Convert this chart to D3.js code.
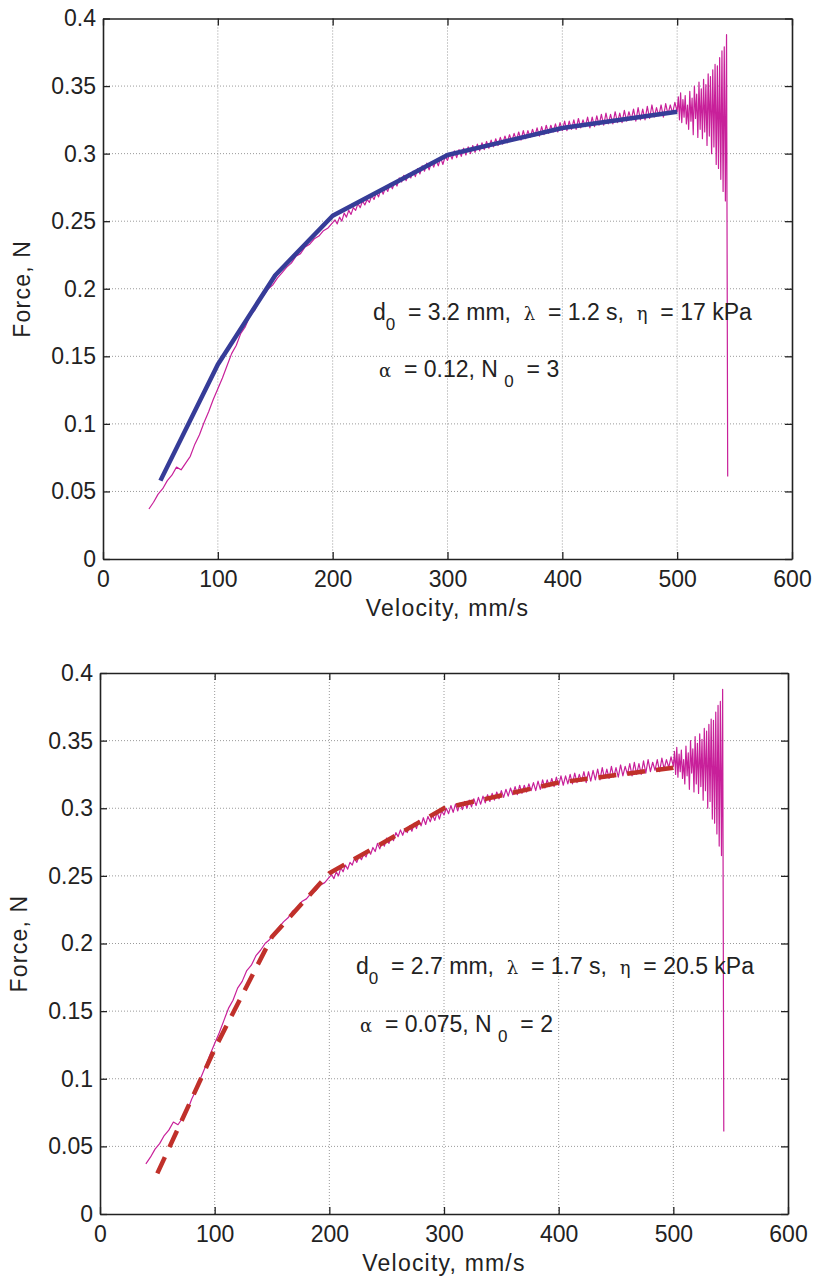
<!DOCTYPE html>
<html>
<head>
<meta charset="utf-8">
<script src="https://cdn.jsdelivr.net/npm/d3@7"></script>
<style>
html,body{margin:0;padding:0;background:#fff;}
svg{display:block;}
text{font-family:"Liberation Sans",Arial,Helvetica,sans-serif;fill:#222;}
</style>
</head>
<body>
<svg id="chart" width="815" height="1279"></svg>
<script>
// ---------------- DATA ----------------
const xTicks = [0, 100, 200, 300, 400, 500, 600];
const xTickLabels = ["0", "100", "200", "300", "400", "500", "600"];
const yTicks = [0, 0.05, 0.1, 0.15, 0.2, 0.25, 0.3, 0.35, 0.4];
const yTickLabels = ["0", "0.05", "0.1", "0.15", "0.2", "0.25", "0.3", "0.35", "0.4"];

// measured force, velocity 40..200 every 4 mm/s
const measLowStart = 40, measLowStep = 4;
const measLowF = [.037,.042,.048,.052,.058,.062,.068,.066,.071,.076,.085,.092,.101,.109,.118,.126,
  .134,.143,.152,.158,.167,.172,.180,.184,.191,.195,.200,.203,.208,.212,.216,.219,.224,.226,.231,
  .233,.237,.239,.243,.245,.249];
// measured force, velocity 202..500 every 2 mm/s
const measMidStart = 202, measMidStep = 2;
const measMidF = [.251,.248,.253,.250,.256,.253,.258,.255,.260,.258,.263,.260,.265,.262,.266,.264,
  .269,.266,.271,.268,.274,.270,.275,.272,.278,.274,.279,.276,.282,.279,.284,.280,.285,.282,.287,
  .283,.289,.285,.291,.287,.293,.288,.294,.290,.295,.291,.297,.292,.298,.295,.300,.296,.302,.297,
  .303,.298,.304,.299,.305,.300,.306,.301,.307,.302,.308,.303,.309,.304,.310,.305,.311,.306,.312,
  .307,.313,.308,.314,.309,.315,.310,.316,.310,.317,.311,.317,.312,.318,.313,.319,.313,.320,.314,
  .321,.315,.321,.316,.322,.316,.323,.317,.324,.317,.324,.318,.325,.318,.326,.319,.325,.320,.327,
  .319,.327,.320,.328,.321,.329,.321,.330,.322,.329,.322,.331,.323,.330,.323,.332,.324,.331,.325,
  .333,.324,.334,.325,.333,.325,.335,.326,.336,.327,.334,.328,.336,.327,.337,.329,.336,.330,.338,.331];
// measured force, velocity 501..544 every 1 mm/s (oscillating end)
const measEndStart = 501, measEndStep = 1;
const measEndF = [.342,.325,.345,.323,.340,.327,.343,.322,.336,.318,.346,.324,.341,.314,.350,.326,
  .344,.312,.353,.318,.348,.311,.355,.316,.351,.306,.359,.313,.357,.300,.362,.305,.366,.292,.365,
  .289,.371,.281,.376,.272,.379,.265,.388,.061];

// model curves
const modelV = [50, 100, 150, 200, 300, 400, 500];
const modelTopF = [0.058, 0.144, 0.210, 0.254, 0.299, 0.319, 0.331];
const modelBottomF = [0.030, 0.122, 0.205, 0.252, 0.300, 0.319, 0.330];

// annotations
const annTop = {d0: "3.2", lambda: "1.2", eta: "17", alpha: "0.12", N0: "3"};
const annBottom = {d0: "2.7", lambda: "1.7", eta: "20.5", alpha: "0.075", N0: "2"};

// ---------------- DRAW ----------------
function seg(start, step, arr) { return arr.map((f, i) => [start + i * step, f]); }
const measured = [].concat(seg(measLowStart, measLowStep, measLowF),
                           seg(measMidStart, measMidStep, measMidF),
                           seg(measEndStart, measEndStep, measEndF));

const svg = d3.select("#chart");

function panel(cfg) {
  const x = d3.scaleLinear().domain([0, 600]).range([cfg.left, cfg.right]);
  const y = d3.scaleLinear().domain([0, 0.4]).range([cfg.bottom, cfg.top]);
  const g = svg.append("g");

  // grid
  g.append("g").selectAll("line").data(xTicks.slice(1, -1)).join("line")
    .attr("x1", d => x(d)).attr("x2", d => x(d)).attr("y1", cfg.top).attr("y2", cfg.bottom)
    .attr("stroke", "#9a9a9a").attr("stroke-width", 1).attr("stroke-dasharray", "1,2");
  g.append("g").selectAll("line").data(yTicks.slice(1, -1)).join("line")
    .attr("y1", d => y(d)).attr("y2", d => y(d)).attr("x1", cfg.left).attr("x2", cfg.right)
    .attr("stroke", "#9a9a9a").attr("stroke-width", 1).attr("stroke-dasharray", "1,2");

  // measured
  g.append("path").datum(measured)
    .attr("d", d3.line().x(d => x(d[0])).y(d => y(d[1])))
    .attr("fill", "none").attr("stroke", "#c8209a").attr("stroke-width", 1.2)
    .attr("stroke-linejoin", "round");

  // model
  const mdata = modelV.map((v, i) => [v, cfg.model[i]]);
  const mp = g.append("path").datum(mdata)
    .attr("d", d3.line().x(d => x(d[0])).y(d => y(d[1])))
    .attr("fill", "none").attr("stroke", cfg.modelColor).attr("stroke-width", cfg.modelWidth)
    .attr("stroke-linejoin", "round");
  if (cfg.dash) mp.attr("stroke-dasharray", cfg.dash);

  // axes
  const fmtX = d => xTickLabels[xTicks.indexOf(d)];
  const fmtY = d => yTickLabels[yTicks.indexOf(d)];
  const ax = [
    g.append("g").attr("transform", `translate(0,${cfg.bottom})`)
      .call(d3.axisBottom(x).tickValues(xTicks).tickFormat(fmtX).tickSizeInner(-7).tickSizeOuter(0).tickPadding(12)),
    g.append("g").attr("transform", `translate(${cfg.left},0)`)
      .call(d3.axisLeft(y).tickValues(yTicks).tickFormat(fmtY).tickSizeInner(-7).tickSizeOuter(0).tickPadding(7)),
    g.append("g").attr("transform", `translate(0,${cfg.top})`)
      .call(d3.axisTop(x).tickValues(xTicks).tickFormat("").tickSizeInner(-7).tickSizeOuter(0)),
    g.append("g").attr("transform", `translate(${cfg.right},0)`)
      .call(d3.axisRight(y).tickValues(yTicks).tickFormat("").tickSizeInner(-7).tickSizeOuter(0))
  ];
  ax.forEach(a => {
    a.select(".domain").attr("stroke", "#222").attr("stroke-width", 1.6);
    a.selectAll(".tick line").attr("stroke", "#222").attr("stroke-width", 1.3);
    a.selectAll("text").attr("font-size", 23).attr("fill", "#222")
      .attr("font-family", "'Liberation Sans', Arial, sans-serif");
  });

  // axis labels
  g.append("text").attr("x", (cfg.left + cfg.right) / 2).attr("y", cfg.bottom + 57)
    .attr("text-anchor", "middle").attr("font-size", 23).attr("letter-spacing", 1.2)
    .text("Velocity, mm/s");
  g.append("text")
    .attr("transform", `translate(${cfg.ylabelX},${(cfg.top + cfg.bottom) / 2}) rotate(-90)`)
    .attr("text-anchor", "middle").attr("font-size", 23).attr("letter-spacing", 1.2)
    .text("Force, N");

  // annotation
  const a = cfg.ann;
  const greek = "'DejaVu Serif','Liberation Serif',serif";
  const t1 = g.append("text").attr("x", cfg.annX).attr("y", cfg.annY1).attr("font-size", 23);
  t1.append("tspan").text("d");
  t1.append("tspan").attr("font-size", 17).attr("dy", 10).text("0");
  t1.append("tspan").attr("dy", -10).text("\u00a0 = " + a.d0 + " mm,\u00a0\u00a0");
  t1.append("tspan").attr("font-family", greek).attr("font-size", 18).text("\u03bb");
  t1.append("tspan").text("\u00a0 = " + a.lambda + " s,\u00a0\u00a0");
  t1.append("tspan").attr("font-family", greek).attr("font-size", 18).text("\u03b7");
  t1.append("tspan").text("\u00a0 = " + a.eta + " kPa");

  const t2 = g.append("text").attr("x", cfg.annX2).attr("y", cfg.annY2).attr("font-size", 23);
  t2.append("tspan").attr("font-family", greek).attr("font-size", 18).text("\u03b1");
  t2.append("tspan").text("\u00a0 = " + a.alpha + ", N\u00a0");
  t2.append("tspan").attr("font-size", 17).attr("dy", 10).text("0");
  t2.append("tspan").attr("dy", -10).text("\u00a0 = " + a.N0);
}

panel({left: 103, right: 792, top: 18.5, bottom: 559, ylabelX: 30,
       model: modelTopF, modelColor: "#363c98", modelWidth: 4.5, dash: null,
       ann: annTop, annX: 373, annY1: 320, annX2: 379, annY2: 377});
panel({left: 100, right: 788, top: 673, bottom: 1214, ylabelX: 27,
       model: modelBottomF, modelColor: "#c0302a", modelWidth: 4.5, dash: "18,11",
       ann: annBottom, annX: 356, annY1: 974, annX2: 360, annY2: 1032});
</script>
</body>
</html>
